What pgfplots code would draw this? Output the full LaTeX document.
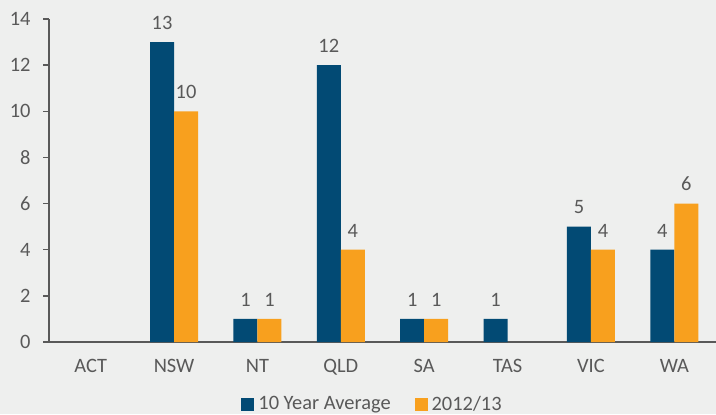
\documentclass[border=0pt]{standalone}
\usepackage{fontspec}
\setmainfont{Carlito}
\usepackage{pgfplots}
\pgfplotsset{compat=1.18}

\definecolor{bg}{HTML}{EEEFEE}
\definecolor{txt}{HTML}{595959}
\definecolor{avgblue}{HTML}{024A74}
\definecolor{yrorange}{HTML}{F8A01E}

\begin{document}
\begin{tikzpicture}[x=1bp,y=1bp]
  \fill[bg] (0,0) rectangle (716,414);
  \useasboundingbox (0,0) rectangle (716,414);
  \begin{axis}[
      at={(49bp,72bp)}, anchor=south west,
      scale only axis,
      width=667bp, height=323bp,
      ybar=0pt, bar width=24bp,
      xmin=-0.5, xmax=7.5,
      ymin=0, ymax=14,
      ytick={0,2,...,14},
      xtick={0,...,7},
      xticklabels={ACT,NSW,NT,QLD,SA,TAS,VIC,WA},
      extra x ticks={-0.5,0.5,...,7.5},
      extra x tick labels={},
      extra x tick style={major tick length=6bp, tick style={txt, line width=1.5bp}},
      axis lines*=left,
      axis line style={txt, line width=1.5bp, -},
      tick style={txt, line width=1.5bp},
      x tick style={draw=none},
      major tick length=6bp,
      tick align=outside,
      /pgf/number format/assume math mode=true,
      tick label style={font=\fontsize{20.5}{22}\selectfont, text=txt},
      yticklabel style={xshift=-9bp},
      xticklabel style={yshift=-8bp},
      nodes near coords,
      every node near coord/.append style={font=\fontsize{20.5}{22}\selectfont, text=txt, yshift=9bp},
      legend columns=2,
      legend style={at={(rel axis cs:0.485,-0.192)}, anchor=center,
        draw=none, fill=none, font=\fontsize{20.5}{22}\selectfont, text=txt,
        /tikz/column 1/.style={column sep=2bp},
        /tikz/column 2/.style={column sep=22bp},
        /tikz/column 3/.style={column sep=2bp}},
      legend image code/.code={\fill[#1] (0bp,-6.5bp) rectangle (13bp,6.5bp);},
    ]
    \addplot[fill=avgblue, draw=none] coordinates {(1,13) (2,1) (3,12) (4,1) (5,1) (6,5) (7,4)};
    \addplot[fill=yrorange, draw=none] coordinates {(1,10) (2,1) (3,4) (4,1) (6,4) (7,6)};
    \legend{10 Year Average, 2012/13}
  \end{axis}
\end{tikzpicture}
\end{document}
